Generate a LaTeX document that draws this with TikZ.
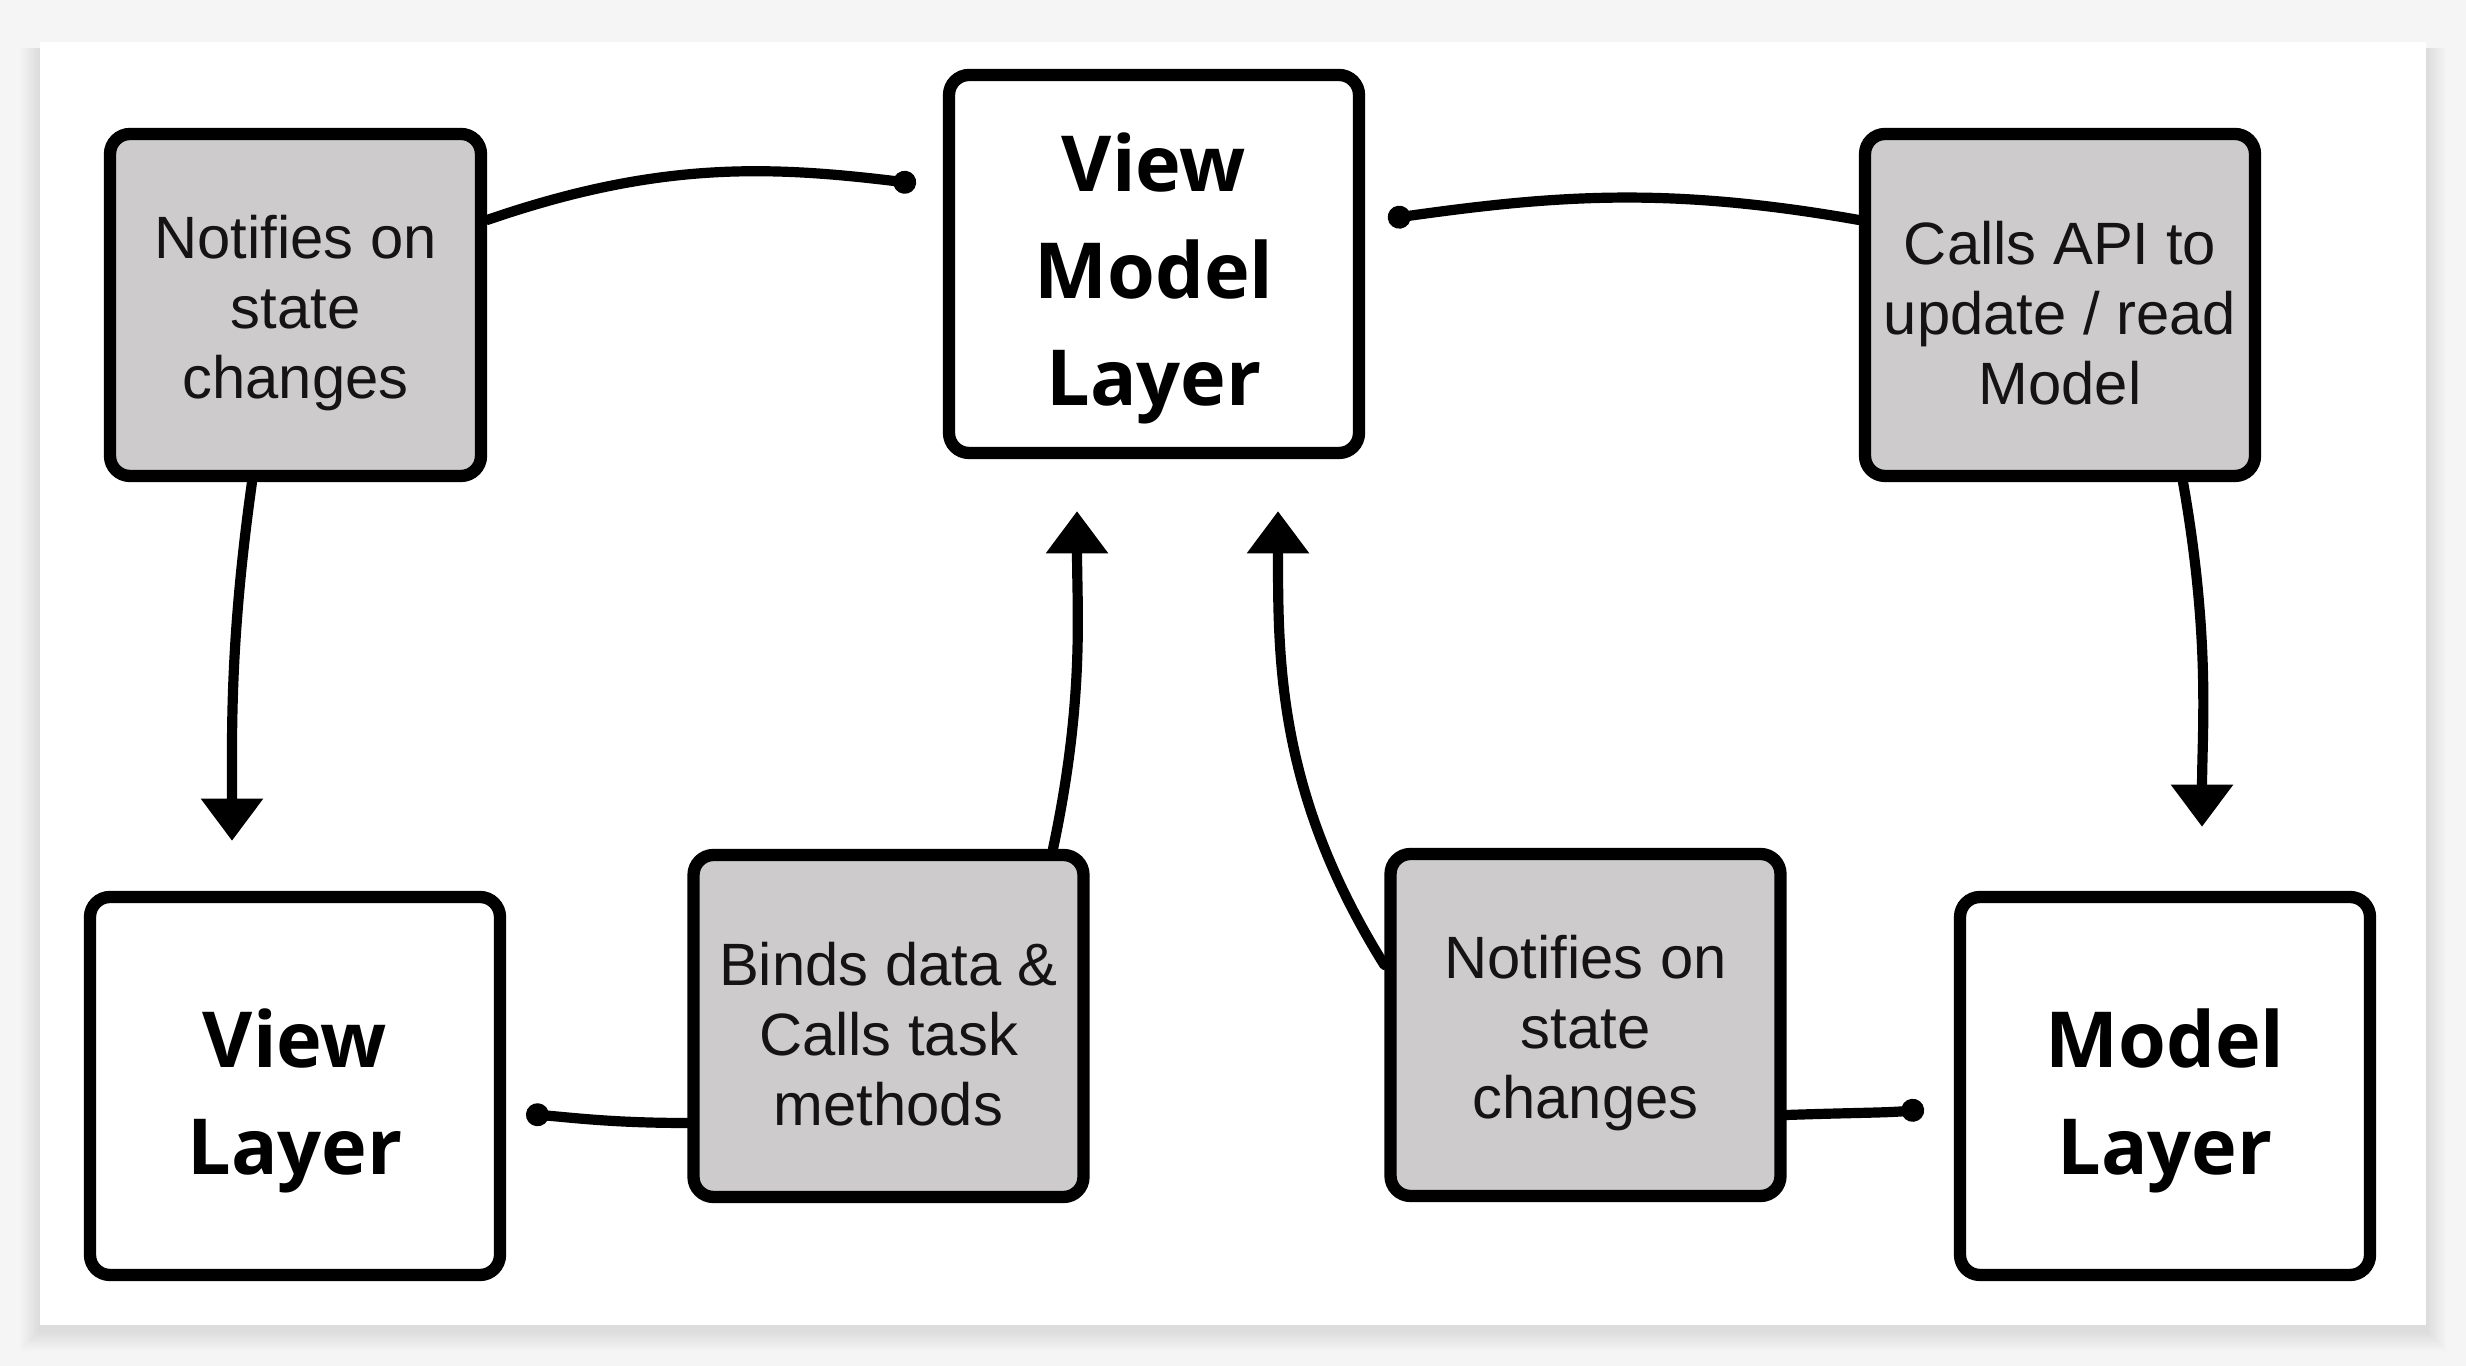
\documentclass[tikz,border=0pt]{standalone}
\usepackage{fontspec}
\setmainfont{Liberation Sans}
\newfontfamily\layerfont{Open Sans}
\usetikzlibrary{arrows.meta,calc}
\tikzset{
  flowline/.style={line width=2.9pt, line cap=round, draw=black},
  flowarrow/.style={flowline, -{Triangle[length=12pt,width=17pt]}},
  flowdot/.style={flowline, -{Circle[length=6.5pt]}},
  dotflow/.style={flowline, {Circle[length=6.5pt]}-}
}
\definecolor{NoteGray}{HTML}{CDCBCC}
\definecolor{PageGray}{HTML}{F5F5F5}
\newcommand{\notelift}{\rule{0pt}{17pt}}
\newcommand{\layerlift}{\rule{0pt}{25pt}}

\begin{document}
\begin{tikzpicture}[
  notebox/.style={draw, line width=3.5pt, rounded corners=0.2cm, fill=NoteGray, align=center,
    minimum width=3.9cm, minimum height=3.42cm, inner sep=2pt,
    font=\fontsize{17}{20}\selectfont, text=black!92},
  layerbox/.style={draw, line width=3.5pt, rounded corners=0.2cm, fill=white, align=center,
    minimum width=4.1cm, minimum height=3.78cm, inner sep=2pt,
    font=\layerfont\bfseries\fontsize{22}{30.5}\selectfont}
]
\useasboundingbox (0,0) rectangle (24.66,13.66);
\fill[PageGray] (0,0) rectangle (24.66,13.66);

% Card with a soft shadow underneath
\coordinate (cardsw) at (0.40,0.41);
\coordinate (cardne) at (24.26,13.24);
\foreach \s in {1,...,8}
  \fill[black, opacity=0.012] ($(cardsw)+(-0.025*\s,-0.06-0.025*\s)$) rectangle ($(cardne)+(0.025*\s,-0.06)$);
\fill[white] (cardsw) rectangle (cardne);

\node[notebox, minimum width=3.71cm] at (2.955,10.61) (notifyview) {\notelift Notifies on\\state\\changes};
\node[layerbox] at (11.54,11.02) (viewmodel) {\layerlift View\\Model\\Layer};
\node[notebox] at (20.60,10.61) (callsapi) {\notelift Calls API to\\update / read\\Model};
\node[layerbox] at (2.95,2.80) (view) {\layerlift View\\Layer};
\node[notebox] at (8.885,3.40) (binds) {\notelift Binds data \&\\Calls task\\methods};
\node[notebox] at (15.855,3.41) (notifyvm) {\notelift Notifies on\\state\\changes};
\node[layerbox] at (21.65,2.80) (model) {\layerlift Model\\Layer};

% Top row: links into and out of the view model
\draw[flowdot, shorten >=0.27cm] ([yshift=0.85cm]notifyview.east) to[out=19,in=173] ([yshift=0.77cm]viewmodel.west);
\draw[dotflow, shorten <=0.23cm] ([yshift=0.42cm]viewmodel.east) to[out=8,in=170] ([yshift=0.85cm]callsapi.west);

% Downward arrows on the sides
\draw[flowarrow, shorten >=0.50cm] ([xshift=-0.435cm]notifyview.south) to[out=-98,in=90] ([xshift=-0.63cm]view.north);
\draw[flowarrow, shorten >=0.64cm] ([xshift=1.23cm]callsapi.south) to[out=-80,in=90] ([xshift=0.37cm]model.north);

% Upward arrows into the view model
\draw[flowarrow, shorten >=0.52cm] ([xshift=1.645cm]binds.north) to[out=78,in=-90] ([xshift=-0.77cm]viewmodel.south);
\draw[flowarrow, shorten >=0.52cm] ([yshift=0.6cm]notifyvm.west) to[out=122,in=-90] ([xshift=1.24cm]viewmodel.south);

% Bottom row: short links to the layers
\draw[flowdot, shorten >=0.2cm] ([yshift=-0.97cm]binds.west) to[out=180,in=-5] ([yshift=-0.26cm]view.east);
\draw[flowdot, shorten >=0.3cm] ([yshift=-0.90cm]notifyvm.east) to[out=2,in=186] ([yshift=-0.20cm]model.west);
\end{tikzpicture}
\end{document}
